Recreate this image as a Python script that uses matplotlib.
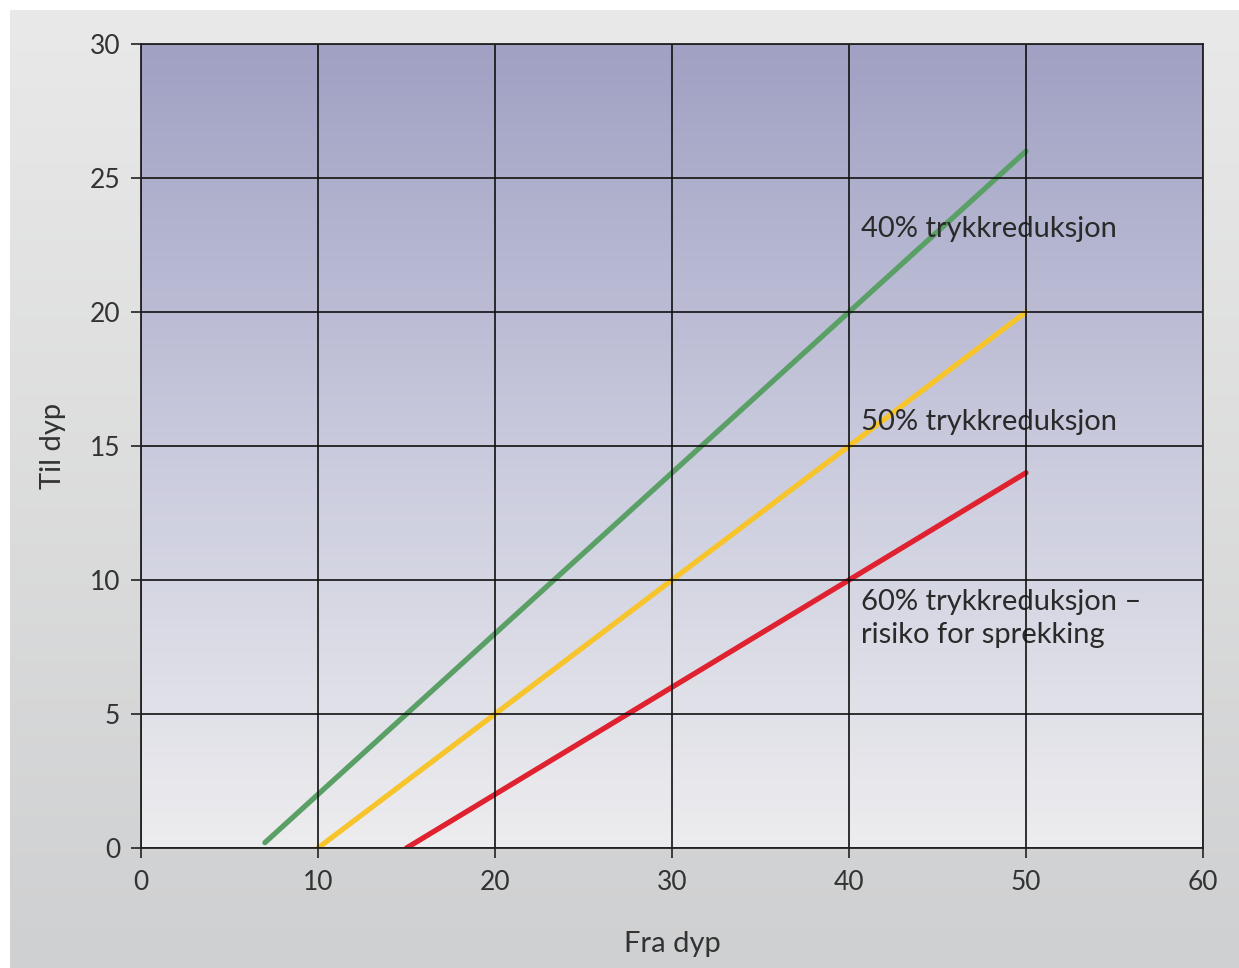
import numpy as np
import matplotlib
matplotlib.use("Agg")
import matplotlib.pyplot as plt
from matplotlib.colors import LinearSegmentedColormap

plt.rcParams['font.family'] = ['Lato', 'DejaVu Sans']

# Data
green_x = [7, 10, 20, 30, 40, 50]
green_y = [0.2, 2, 8, 14, 20, 26]
yellow_x = [10, 20, 30, 40, 50]
yellow_y = [0, 5, 10, 15, 20]
red_x = [15, 20, 30, 40, 50]
red_y = [0, 2, 6, 10, 14]

x_ticks = [0, 10, 20, 30, 40, 50, 60]
y_ticks = [0, 5, 10, 15, 20, 25, 30]

labels = ["40% trykkreduksjon", "50% trykkreduksjon",
          "60% trykkreduksjon –\nrisiko for sprekking"]

W, H = 1239, 968
fig = plt.figure(figsize=(W / 100, H / 100), dpi=100)
fig.patch.set_facecolor('white')

# outer gray panel with gradient
bg = fig.add_axes([10 / W, 0, 1 - 10 / W, 1 - 10 / H], zorder=-5)
bg.axis('off')
panel_cmap = LinearSegmentedColormap.from_list('p', ['#cfd0d1', '#e9e9e9'])
bg.imshow(np.linspace(0, 1, 256).reshape(-1, 1), cmap=panel_cmap, aspect='auto',
          origin='lower', extent=[0, 1, 0, 1])
bg.set_xlim(0, 1)
bg.set_ylim(0, 1)

ax = fig.add_axes([141 / W, 1 - 848 / H, (1203 - 141) / W, (848 - 44) / H])
ax.set_xlim(0, 60)
ax.set_ylim(0, 30)

area_cmap = LinearSegmentedColormap.from_list('a', ['#ededef', '#c9cadd', '#a0a1c3'])
ax.imshow(np.linspace(0, 1, 256).reshape(-1, 1), cmap=area_cmap, aspect='auto',
          origin='lower', extent=[0, 60, 0, 30], zorder=0)

ax.set_xticks(x_ticks)
ax.set_yticks(y_ticks)
ax.grid(True, color='#111111', linewidth=1.2, zorder=3)
ax.set_axisbelow(False)
for s in ax.spines.values():
    s.set_color('#222222')
    s.set_linewidth(1.3)
    s.set_zorder(4)

ax.tick_params(axis='both', direction='out', length=7, width=1.2, color='#222222',
               labelsize=19, labelcolor='#333333', pad=8)
ax.tick_params(axis='x', pad=9)

ax.plot(green_x, green_y, color='#5a9f66', lw=3.8, solid_capstyle='round', zorder=2)
ax.plot(yellow_x, yellow_y, color='#f7c52b', lw=3.8, solid_capstyle='round', zorder=2)
ax.plot(red_x, red_y, color='#e0212f', lw=3.8, solid_capstyle='round', zorder=2)

fs = 21
tc = '#2a2a2a'
ax.text(40.7, 23.1, labels[0], fontsize=fs, color=tc, va='center', ha='left', zorder=2.5)
ax.text(40.7, 15.9, labels[1], fontsize=fs, color=tc, va='center', ha='left', zorder=2.5)
ax.text(40.7, 9.65, labels[2], fontsize=fs, color=tc, va='top', ha='left',
        linespacing=1.32, zorder=2.5)

ax.set_xlabel('Fra dyp', fontsize=21, color='#333333', labelpad=26)
ax.set_ylabel('Til dyp', fontsize=21, color='#333333', labelpad=17)

fig.savefig('out.png', dpi=100, facecolor=fig.get_facecolor())
